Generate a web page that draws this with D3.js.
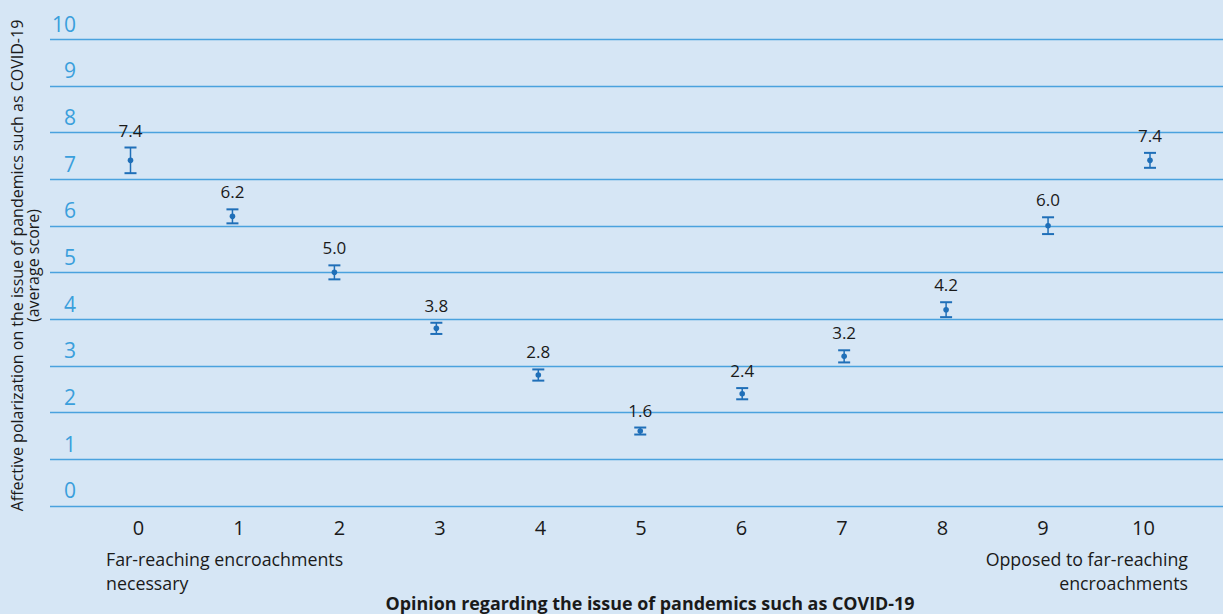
<!DOCTYPE html>
<html>
<head>
<meta charset="utf-8">
<script src="https://cdn.jsdelivr.net/npm/d3@7"></script>
<style>
  html, body { margin: 0; padding: 0; background: #d6e6f5; }
  svg { display: block; }
  text { font-family: "Open Sans", "Noto Sans", sans-serif; }
</style>
</head>
<body>
<svg id="chart" width="1223" height="614"></svg>
<script>
// Opinion scale positions (0 = far-reaching encroachments necessary, 10 = opposed)
const opinions = [0, 1, 2, 3, 4, 5, 6, 7, 8, 9, 10];
// Average affective polarization score per opinion position
const meanScores = [7.4, 6.2, 5.0, 3.8, 2.8, 1.6, 2.4, 3.2, 4.2, 6.0, 7.4];
// Half-width of the confidence interval around each mean
const ciMargins = [0.275, 0.15, 0.15, 0.12, 0.12, 0.075, 0.12, 0.13, 0.16, 0.18, 0.16];
// Value labels shown above each interval
const valueLabels = ["7.4", "6.2", "5.0", "3.8", "2.8", "1.6", "2.4", "3.2", "4.2", "6.0", "7.4"];
// Y axis ticks
const yTicks = [0, 1, 2, 3, 4, 5, 6, 7, 8, 9, 10];

const svg = d3.select("#chart");
const W = 1223, H = 614;

svg.append("rect").attr("width", W).attr("height", H).attr("fill", "#d6e6f5");

const y = d3.scaleLinear().domain([0, 10]).range([505.7, 39]);
const x = d3.scaleLinear().domain([0, 10]).range([130.5, 1150]);
const xLabel = d3.scaleLinear().domain([0, 10]).range([138, 1143]);

// Horizontal grid lines with tick labels sitting just above each line
const yAxis = d3.axisLeft(y).tickValues(yTicks).tickSize(0).tickFormat(d3.format("d"));
const gy = svg.append("g").attr("transform", "translate(76,0)").call(yAxis);
gy.select(".domain").remove();
gy.selectAll(".tick text")
  .attr("x", 0).attr("dy", "-8px")
  .attr("fill", "#3a9fdc").attr("font-size", "21px")
  .attr("font-family", '"Open Sans", sans-serif')
  .attr("text-anchor", "end");
gy.selectAll(".tick line").remove();

svg.append("g").selectAll("line").data(yTicks).join("line")
  .attr("x1", 50).attr("x2", W)
  .attr("y1", d => Math.round(y(d)) + 0.5).attr("y2", d => Math.round(y(d)) + 0.5)
  .attr("stroke", "#4aa2de").attr("stroke-width", 1.3);

// X tick labels
const xAxis = d3.axisBottom(xLabel).tickValues(opinions).tickSize(0).tickFormat(d3.format("d"));
const gx = svg.append("g").attr("transform", "translate(0,535)").call(xAxis);
gx.select(".domain").remove();
gx.selectAll(".tick text")
  .attr("fill", "#1a1a1a").attr("font-size", "20px")
  .attr("font-family", '"Open Sans", sans-serif').attr("y", 0).attr("dy", 0);

// Error bars
const color = "#1f6fb8";
const pts = opinions.map((o, i) => ({ o, m: meanScores[i], e: ciMargins[i], label: valueLabels[i] }));
const g = svg.append("g");
const capW = 6;
g.selectAll("line.stem").data(pts).join("line").attr("class", "stem")
  .attr("x1", d => x(d.o)).attr("x2", d => x(d.o))
  .attr("y1", d => y(d.m + d.e)).attr("y2", d => y(d.m - d.e))
  .attr("stroke", color).attr("stroke-width", 1.5);
g.selectAll("line.capTop").data(pts).join("line").attr("class", "capTop")
  .attr("x1", d => x(d.o) - capW).attr("x2", d => x(d.o) + capW)
  .attr("y1", d => y(d.m + d.e)).attr("y2", d => y(d.m + d.e))
  .attr("stroke", color).attr("stroke-width", 2);
g.selectAll("line.capBot").data(pts).join("line").attr("class", "capBot")
  .attr("x1", d => x(d.o) - capW).attr("x2", d => x(d.o) + capW)
  .attr("y1", d => y(d.m - d.e)).attr("y2", d => y(d.m - d.e))
  .attr("stroke", color).attr("stroke-width", 2);
g.selectAll("circle").data(pts).join("circle")
  .attr("cx", d => x(d.o)).attr("cy", d => y(d.m)).attr("r", 2.8)
  .attr("fill", color);

// Value labels
g.selectAll("text.val").data(pts).join("text").attr("class", "val")
  .attr("x", d => x(d.o)).attr("y", d => y(d.m + d.e) - 11)
  .attr("text-anchor", "middle").attr("font-size", "17px").attr("fill", "#1a1a1a")
  .text(d => d.label);

// Scale-end descriptions
svg.append("text").attr("x", 106).attr("y", 566).attr("font-size", "17.8px").attr("fill", "#1a1a1a")
  .selectAll("tspan").data(["Far-reaching encroachments", "necessary"]).join("tspan")
  .attr("x", 106).attr("dy", (d, i) => i === 0 ? 0 : 24).text(d => d);
svg.append("text").attr("x", 1188).attr("y", 566).attr("font-size", "17.8px").attr("fill", "#1a1a1a")
  .attr("text-anchor", "end")
  .selectAll("tspan").data(["Opposed to far-reaching", "encroachments"]).join("tspan")
  .attr("x", 1188).attr("dy", (d, i) => i === 0 ? 0 : 24).text(d => d);

// X axis title
svg.append("text").attr("x", 650).attr("y", 610).attr("text-anchor", "middle")
  .attr("font-size", "17.9px").attr("font-weight", "bold").attr("fill", "#1a1a1a")
  .text("Opinion regarding the issue of pandemics such as COVID-19");

// Y axis title (two lines, rotated)
const yt = svg.append("text").attr("transform", "translate(23,265.5) rotate(-90)")
  .attr("text-anchor", "middle").attr("font-size", "16px").attr("fill", "#1a1a1a");
yt.append("tspan").attr("x", 0).attr("y", 0).text("Affective polarization on the issue of pandemics such as COVID-19");
yt.append("tspan").attr("x", 0).attr("y", 16).text("(average score)");
</script>
</body>
</html>
